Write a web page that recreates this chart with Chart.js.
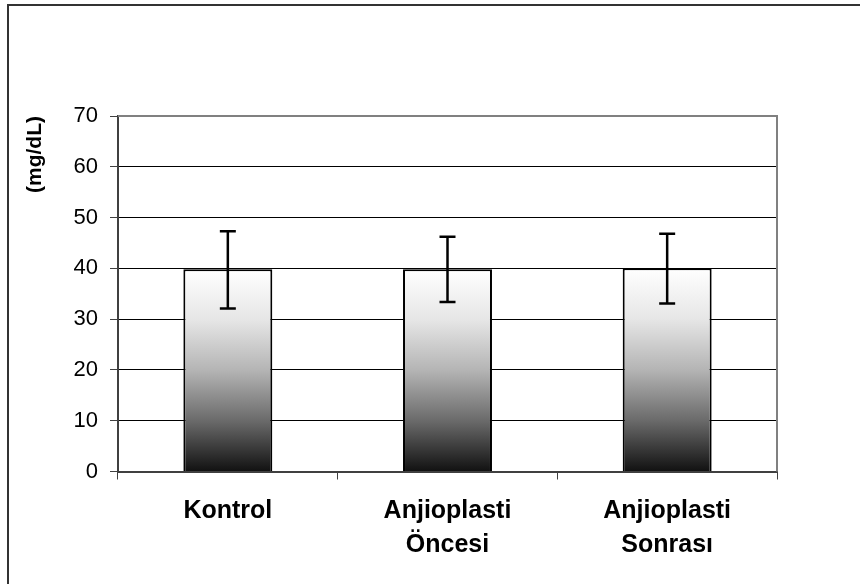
<!DOCTYPE html>
<html>
<head>
<meta charset="utf-8">
<script src="https://cdn.jsdelivr.net/npm/chart.js@4/dist/chart.umd.min.js"></script>
<style>
  html, body { margin: 0; padding: 0; background: #fff; overflow: hidden; }
  #wrap { position: relative; width: 860px; height: 584px; }
  #frame {
    position: absolute; left: 7px; top: 4px; width: 1000px; height: 1000px;
    border-left: 2px solid #333; border-top: 2px solid #333; pointer-events: none;
  }
</style>
</head>
<body>
<div id="wrap">
  <canvas id="chart" width="860" height="584"></canvas>
  <div id="frame"></div>
</div>
<script>
// data
const categories = [["Kontrol"], ["Anjioplasti", "Öncesi"], ["Anjioplasti", "Sonrası"]];
const means = [39.8, 39.8, 40.0];
const errHigh = [47.3, 46.2, 46.8];
const errLow = [32.1, 33.4, 33.1];
const yTicks = [0, 10, 20, 30, 40, 50, 60, 70];

const FONT = "'Liberation Sans', Arial, sans-serif";

// white-to-black fill for each bar
function barFill(ctx) {
  const chart = ctx.chart;
  if (!chart.chartArea) return "#888";
  const y = chart.scales.y;
  const top = y.getPixelForValue(means[ctx.dataIndex]);
  const bottom = y.getPixelForValue(0);
  const g = chart.ctx.createLinearGradient(0, top, 0, bottom);
  g.addColorStop(0, "#ffffff");
  g.addColorStop(0.25, "#e6e6e6");
  g.addColorStop(0.5, "#b4b4b4");
  g.addColorStop(0.75, "#6a6a6a");
  g.addColorStop(1, "#111111");
  return g;
}

// gray border on top and right of the plot area
const plotFrame = {
  id: "plotFrame",
  afterDraw(chart) {
    const { ctx, chartArea: a } = chart;
    ctx.save();
    ctx.strokeStyle = "#808080";
    ctx.lineWidth = 2;
    ctx.beginPath();
    ctx.moveTo(a.left, a.top);
    ctx.lineTo(a.right, a.top);
    ctx.lineTo(a.right, a.bottom);
    ctx.stroke();
    ctx.restore();
  },
};

// error bars from errLow / errHigh
const errorBars = {
  id: "errorBars",
  afterDatasetsDraw(chart) {
    const { ctx } = chart;
    const y = chart.scales.y;
    const meta = chart.getDatasetMeta(0);
    ctx.save();
    ctx.strokeStyle = "#000";
    ctx.lineWidth = 2.5;
    meta.data.forEach((bar, i) => {
      const x = bar.x;
      const hi = y.getPixelForValue(errHigh[i]);
      const lo = y.getPixelForValue(errLow[i]);
      ctx.beginPath();
      ctx.moveTo(x, hi);
      ctx.lineTo(x, lo);
      ctx.moveTo(x - 8, hi);
      ctx.lineTo(x + 8, hi);
      ctx.moveTo(x - 8, lo);
      ctx.lineTo(x + 8, lo);
      ctx.stroke();
    });
    ctx.restore();
  },
};

new Chart(document.getElementById("chart"), {
  type: "bar",
  data: {
    labels: categories,
    datasets: [
      {
        data: means,
        backgroundColor: barFill,
        borderColor: "#000",
        borderWidth: 2,
        categoryPercentage: 1,
        barPercentage: 0.405,
      },
    ],
  },
  options: {
    responsive: false,
    animation: false,
    layout: { padding: { top: 116, right: 83, bottom: 0, left: 0 } },
    plugins: { legend: { display: false }, tooltip: { enabled: false } },
    scales: {
      x: {
        grid: {
          offset: true,
          drawOnChartArea: false,
          tickLength: 8,
          color: "#404040",
        },
        border: { display: true, color: "#404040", width: 2 },
        ticks: {
          color: "#000",
          padding: 15,
          maxRotation: 0,
          font: { family: FONT, size: 25, weight: "bold", lineHeight: "34px" },
        },
        afterFit(scale) {
          scale.height = 584 - 471.5;
        },
      },
      y: {
        min: 0,
        max: 70,
        afterBuildTicks(scale) {
          scale.ticks = yTicks.map((v) => ({ value: v }));
        },
        grid: {
          color: "#000",
          lineWidth: 1,
          tickLength: 8,
          tickColor: "#404040",
        },
        border: { display: true, color: "#404040", width: 2 },
        ticks: {
          color: "#000",
          padding: 12,
          font: { family: FONT, size: 22 },
        },
        title: {
          display: true,
          text: "(mg/dL)",
          align: "end",
          color: "#000",
          padding: { top: 23, bottom: 0 },
          font: { family: FONT, size: 21, weight: "bold" },
        },
        afterFit(scale) {
          scale.width = 118;
        },
      },
    },
  },
  plugins: [plotFrame, errorBars],
});
</script>
</body>
</html>
